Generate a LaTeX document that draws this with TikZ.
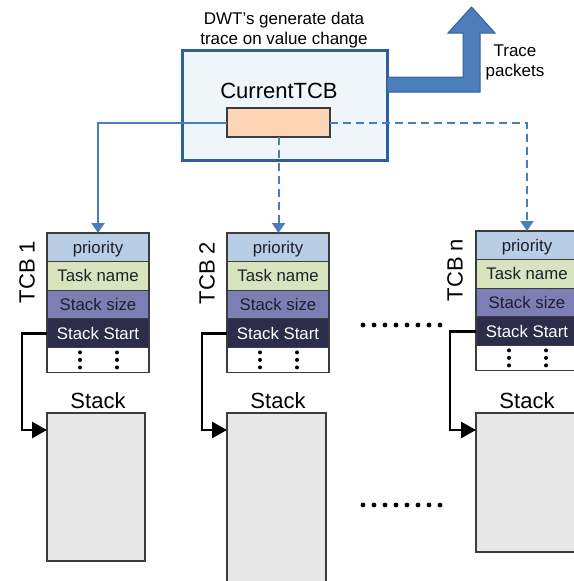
\documentclass[tikz,border=0pt]{standalone}
\usepackage{fontspec}
\setmainfont{Liberation Sans}
\usetikzlibrary{arrows.meta,calc}
\definecolor{boxblue}{HTML}{2F5F98}
\definecolor{boxfill}{HTML}{EEF5FB}
\definecolor{lineblue}{HTML}{4A7EBB}
\definecolor{arrfill}{HTML}{4A7DBA}
\definecolor{arrline}{HTML}{34639C}
\definecolor{peach}{HTML}{FBD5B5}
\definecolor{rowline}{HTML}{3C3C3C}
\definecolor{pri}{HTML}{B9CDE5}
\definecolor{tsk}{HTML}{D7E4BD}
\definecolor{ssz}{HTML}{7B7FB3}
\definecolor{sst}{HTML}{2B2D4A}
\definecolor{stkfill}{HTML}{E8E8E8}
\definecolor{txtdark}{HTML}{1F1F2A}
\begin{document}
\begin{tikzpicture}[x=1pt,y=-1pt,
  row/.style={draw=rowline, line width=1.1pt, minimum width=102pt, minimum height=28.6pt,
    inner sep=0pt, outer sep=0pt, anchor=north west, text height=12pt, text depth=0pt,
    text=txtdark, font=\fontsize{16.8}{19}\selectfont},
  dotrow/.style={row, minimum height=25pt, fill=white},
  stackbox/.style={draw=rowline, line width=1.5pt, fill=stkfill, inner sep=0pt, outer sep=0pt,
    anchor=north west, minimum width=98pt},
  biglabel/.style={font=\fontsize{22}{26}\selectfont, inner sep=0pt},
  midlabel/.style={font=\fontsize{17}{20}\selectfont, align=center, inner sep=0pt},
  blconn/.style={draw=lineblue, line width=2pt},
  bldash/.style={blconn, dash pattern=on 8pt off 5pt},
  bltip/.style={-{Triangle[width=13pt,length=10pt]}},
  blkconn/.style={draw=black, line width=2.8pt, line join=miter, -{Triangle[width=16pt,length=15pt]}},
  tinydot/.style={fill=black}
]
\useasboundingbox (0,0) rectangle (573,581);

% DWT box
\node[draw=boxblue, line width=3pt, fill=boxfill, minimum width=205pt, minimum height=110pt,
  anchor=north west, inner sep=0pt, outer sep=0pt] (dwt) at (182,50) {};
\node[midlabel] (dwttext) at (284,30) {DWT’s generate data\\trace on value change};
\node[biglabel, anchor=base] (ctcb) at (279,98) {CurrentTCB};
\node[draw=rowline, line width=1.2pt, fill=peach, minimum width=103pt, minimum height=29pt,
  anchor=north west, inner sep=0pt, outer sep=0pt] (cur) at (227,108) {};

% big trace arrow
\filldraw[fill=arrfill, draw=arrline, line width=1pt]
  (387,77) -- (463,77) -- (463,33) -- (448,33) -- (471.5,7) -- (495,33) -- (480,33)
  -- (480,92) -- (387,92) -- cycle;
\coordinate (tracetip) at (471.5,7);
\node[midlabel] (tracetext) at (515,62) {Trace\\packets};

% TCB columns
\foreach \n/\x/\y/\lx/\ly in {1/47/233/27/272, 2/227/233/207/273, n/476/231/455/270} {
  \node[row, fill=pri] (p\n) at (\x,\y) {priority};
  \node[row, fill=tsk] (t\n) at (p\n.south west) {Task name};
  \node[row, fill=ssz] (s\n) at (t\n.south west) {Stack size};
  \node[row, fill=sst, text=white] (ss\n) at (s\n.south west) {Stack Start};
  \node[dotrow] (d\n) at (ss\n.south west) {};
  \foreach \dx in {33,70} {
    \foreach \dy in {5,12.5,20} {
      \fill[tinydot] ($(d\n.north west)+(\dx,\dy)$) circle (2pt);
    }
  }
  \node[biglabel, rotate=90] (lab\n) at (\lx,\ly) {TCB \n};
}

% Stacks
\node[stackbox, minimum height=148pt] (stk1) at (47,413) {};
\node[stackbox, minimum height=185pt, minimum width=99pt] (stk2) at (227,413) {};
\node[stackbox, minimum height=139pt, minimum width=100pt] (stkn) at (476,413) {};
\node[biglabel, anchor=base] (sl1) at (98,408) {Stack};
\node[biglabel, anchor=base] (sl2) at (278,408) {Stack};
\node[biglabel, anchor=base] (sln) at (527,408) {Stack};

% Stack Start pointers
\draw[blkconn] (ss1.west) -- ++(-25,0) |- ($(stk1.north west)+(0,17)$);
\draw[blkconn] (ss2.west) -- ++(-25,0) |- ($(stk2.north west)+(0,17)$);
\draw[blkconn] (ssn.west) -- ++(-26,0) |- ($(stkn.north west)+(0,17)$);

% CurrentTCB pointers
\draw[blconn, bltip] (cur.west) -| (p1.north);
\draw[bldash, bltip] (cur.south) -- (cur.south |- p2.north);
\draw[bldash, bltip] (cur.east) -| (pn.north);

% ellipsis dots
\foreach \i in {0,...,7} {
  \fill (363+11*\i,325) circle (2.4pt);
  \fill (363+11*\i,505) circle (2.4pt);
}
\end{tikzpicture}
\end{document}
